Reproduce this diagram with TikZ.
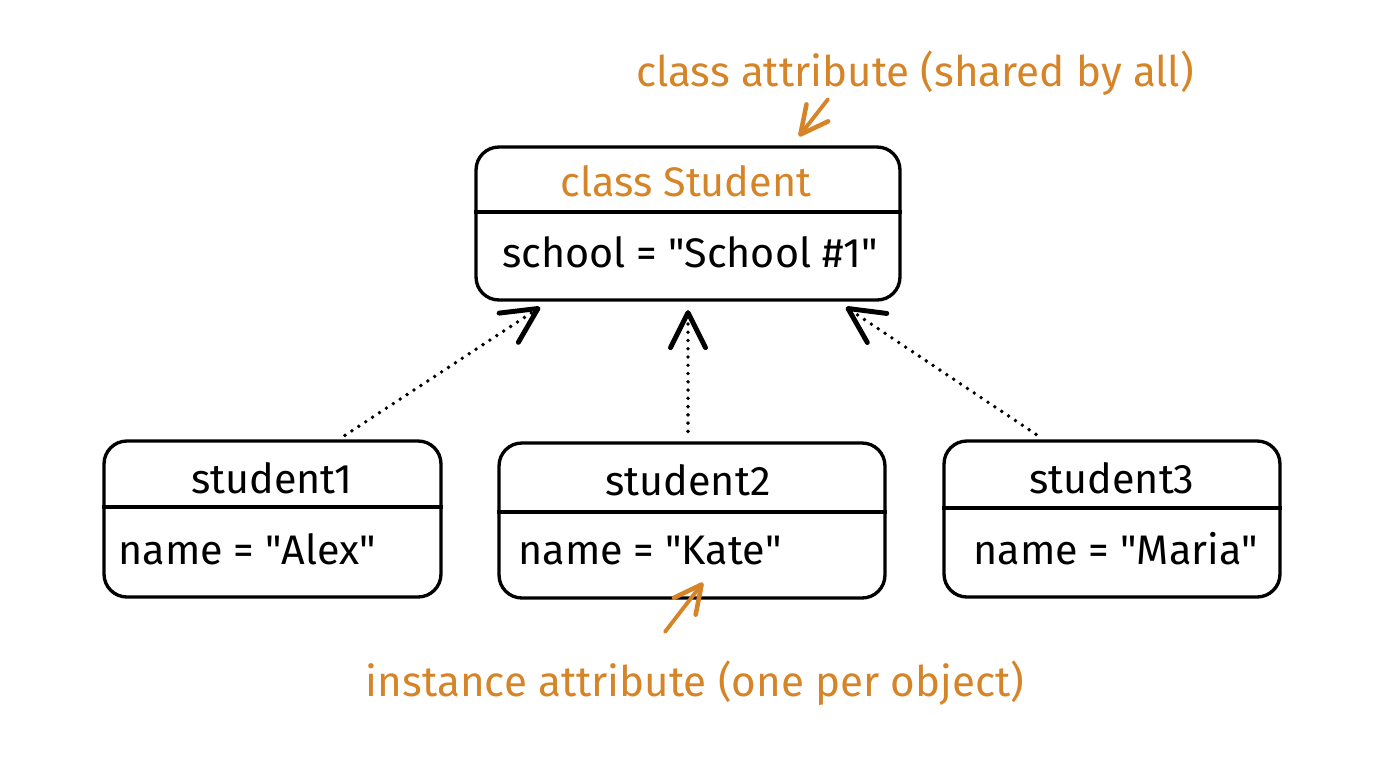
\documentclass[tikz,border=0pt]{standalone}
\usepackage{fontspec}
\setmainfont{Fira Sans}
\usetikzlibrary{arrows.meta}
\definecolor{annot}{RGB}{214,132,40}
\newcommand{\dq}{\textquotedbl}

\begin{document}
\begin{tikzpicture}[x=0.02cm,y=-0.02cm,
  objbox/.style={draw,line width=1.9pt,rounded corners=13pt,inner sep=0pt},
  boxtext/.style={inner sep=0pt,font=\fontsize{23.5}{28}\selectfont},
  notetext/.style={inner sep=2pt,text=annot,font=\fontsize{24}{29}\selectfont},
  link/.style={line width=2.2pt,dash pattern=on 0pt off 4.7pt,line cap=round,
    -{Straight Barb[length=7mm,width=7mm,line width=2.8pt,round]}},
  notearrow/.style={annot,line width=2.2pt,line cap=round,
    -{Straight Barb[length=5.5mm,width=5.5mm,line width=2.6pt,round]}}]
\useasboundingbox (0,0) rectangle (1376,768);
% class box
\node[objbox,minimum width=8.48cm,minimum height=3.06cm] (cls) at (688,223.5) {};
\draw[line width=1.9pt] (cls.west |- 0,212) -- (cls.east |- 0,212);
\node[boxtext,text=annot] (clstitle) at (686,181) {class Student};
\node[boxtext] (clsbody) at (690,252) {school = \dq School \#1\dq};
% objects
\node[objbox,minimum width=6.74cm,minimum height=3.12cm] (s1) at (272.5,519) {};
\node[objbox,minimum width=7.72cm,minimum height=3.10cm] (s2) at (692,520.5) {};
\node[objbox,minimum width=6.72cm,minimum height=3.12cm] (s3) at (1112,519) {};
\draw[line width=1.9pt] (s1.west |- 0,507) -- (s1.east |- 0,507);
\draw[line width=1.9pt] (s2.west |- 0,512) -- (s2.east |- 0,512);
\draw[line width=1.9pt] (s3.west |- 0,508) -- (s3.east |- 0,508);
\node[boxtext] (s1title) at (272,478) {student1};
\node[boxtext] (s2title) at (688,480) {student2};
\node[boxtext] (s3title) at (1112,478) {student3};
\node[boxtext,anchor=west] (s1name) at (118,549) {name = \dq Alex\dq};
\node[boxtext,anchor=west] (s2name) at (518,551) {name = \dq Kate\dq};
\node[boxtext,anchor=west] (s3name) at (973,549) {name = \dq Maria\dq};
% instance -> class
\draw[link] ([xshift=1.45cm,yshift=0.08cm]s1.north) -- ([xshift=-2.96cm,yshift=-0.11cm]cls.south);
\draw[link] ([xshift=-0.08cm,yshift=0.2cm]s2.north) -- ([yshift=-0.17cm]cls.south);
\draw[link] ([xshift=-1.52cm,yshift=0.1cm]s3.north) -- ([xshift=3.16cm,yshift=-0.11cm]cls.south);
% notes
\node[notetext] (clsnote) at (915,73) {class attribute (shared by all)};
\node[notetext] (instnote) at (695,683) {instance attribute (one per object)};
\draw[notearrow] ([xshift=-1.74cm]clsnote.south) -- ([xshift=2.22cm,yshift=0.18cm]cls.north);
\draw[notearrow] ([xshift=-0.6cm,yshift=0.5cm]instnote.north) -- ([xshift=0.22cm,yshift=0.34cm]s2.south);
\end{tikzpicture}
\end{document}
